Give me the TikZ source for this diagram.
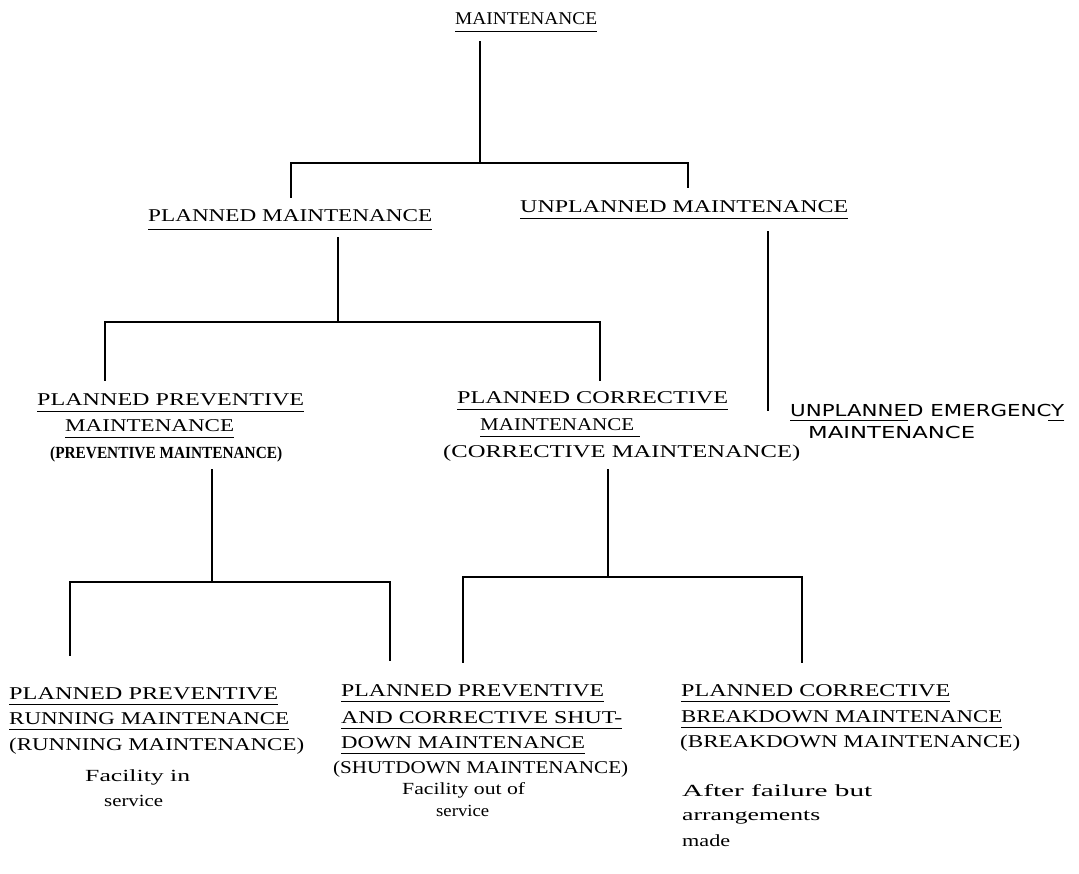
\documentclass[tikz,border=0pt]{standalone}
\usepackage{fontspec}
\usepackage{graphicx}
\setmainfont{Liberation Serif}
\newfontfamily\handfont{DejaVu Sans}
\newcommand\fw[2]{\resizebox{#1pt}{\height}{#2}}
\tikzset{
  lbl/.style={anchor=base west, inner sep=0pt, font=\fontsize{18}{20}\selectfont},
  note/.style={anchor=base west, inner sep=0pt, font=\fontsize{17}{20}\selectfont},
  hand/.style={anchor=base west, inner sep=0pt, font=\handfont\fontsize{16.5}{19}\selectfont},
  conn/.style={line width=1.5pt, line cap=rect},
  ulin/.style={line width=1pt}
}
\newcommand\txtline[5]{% name, x0, x1, baseline, text
  \node[lbl] (#1) at (#2,#4) {\fw{\the\numexpr #3-#2\relax}{#5}};}
\newcommand\noteline[5]{% name, x0, x1, baseline, text
  \node[note] (#1) at (#2,#4) {\fw{\the\numexpr #3-#2\relax}{#5}};}
\newcommand\ulline[2]{% underline node name, offset
  \draw[ulin] ([yshift=-#2pt]#1.base west) -- ([yshift=-#2pt]#1.base east);}
\begin{document}
\begin{tikzpicture}[x=1pt,y=-1pt]
\useasboundingbox[fill=white] (0,0) rectangle (1079,873);
% texts
\txtline{T}{455}{597}{24}{MAINTENANCE}\ulline{T}{7}
\txtline{PM}{148}{432}{221}{PLANNED MAINTENANCE}\ulline{PM}{8}
\txtline{UM}{520}{848}{212}{UNPLANNED MAINTENANCE}\ulline{UM}{6}
\txtline{PPa}{37}{304}{405}{PLANNED PREVENTIVE}\ulline{PPa}{6}
\txtline{PPb}{65}{234}{431}{MAINTENANCE}\ulline{PPb}{6}
\node[lbl, font=\bfseries\fontsize{17}{20}\selectfont] (PPc) at (50,458) {\fw{232}{(PREVENTIVE MAINTENANCE)}};
\txtline{PCa}{457}{728}{403}{PLANNED CORRECTIVE}\ulline{PCa}{6}
\txtline{PCb}{480}{634}{430}{MAINTENANCE}\ulline{PCb}{6}
\draw[ulin] ([yshift=-6pt]PCb.base east) -- ++(6,0);
\txtline{PCc}{443}{800}{457}{(CORRECTIVE MAINTENANCE)}
\node[hand] (UEa) at (790,416) {\fw{274}{UNPLANNED EMERGENCY}};
\node[hand] (UEb) at (808,438) {\fw{167}{MAINTENANCE}};
\draw[ulin] ([yshift=-4pt]UEa.base west) -- ++(118,0);
\draw[ulin] ([yshift=-4pt]UEa.base east) -- ++(-16,0);
\txtline{Ra}{9}{278}{699}{PLANNED PREVENTIVE}\ulline{Ra}{5}
\txtline{Rb}{9}{289}{724}{RUNNING MAINTENANCE}\ulline{Rb}{5}
\txtline{Rc}{9}{304}{750}{(RUNNING MAINTENANCE)}
\txtline{Sa}{341}{604}{696}{PLANNED PREVENTIVE}\ulline{Sa}{5}
\txtline{Sb}{341}{622}{723}{AND CORRECTIVE SHUT-}\ulline{Sb}{5}
\txtline{Sc}{341}{585}{748}{DOWN MAINTENANCE}\ulline{Sc}{5}
\txtline{Sd}{333}{628}{773}{(SHUTDOWN MAINTENANCE)}
\txtline{Ba}{681}{950}{696}{PLANNED CORRECTIVE}\ulline{Ba}{5}
\txtline{Bb}{681}{1002}{722}{BREAKDOWN MAINTENANCE}\ulline{Bb}{5}
\txtline{Bc}{680}{1020}{747}{(BREAKDOWN MAINTENANCE)}
\noteline{Fa}{85}{190}{781}{Facility in}
\noteline{Fb}{104}{163}{806}{service}
\noteline{Oa}{402}{525}{794}{Facility out of}
\noteline{Ob}{436}{489}{816}{service}
\noteline{Aa}{682}{872}{796}{After failure but}
\noteline{Ab}{682}{820}{820}{arrangements}
\noteline{Ac}{682}{730}{846}{made}
% connector coordinates
\coordinate (t0) at (480,42);   \coordinate (t1) at (480,163);
\coordinate (tl) at (291,163);  \coordinate (tr) at (688,163);
\coordinate (tle) at (291,197); \coordinate (tre) at (688,187);
\coordinate (p0) at (338,238);  \coordinate (p1) at (338,322);
\coordinate (pl) at (105,322);  \coordinate (pr) at (600,322);
\coordinate (ple) at (105,380); \coordinate (pre) at (600,380);
\coordinate (u0) at (768,232);  \coordinate (ue) at (768,410);
\coordinate (v0) at (212,470);  \coordinate (v1) at (212,582);
\coordinate (vl) at (70,582);   \coordinate (vr) at (390,582);
\coordinate (vle) at (70,655);  \coordinate (vre) at (390,660);
\coordinate (c0) at (608,470);  \coordinate (c1) at (608,577);
\coordinate (cl) at (463,577);  \coordinate (cr) at (802,577);
\coordinate (cle) at (463,662); \coordinate (cre) at (802,662);
\draw[conn] (t0) -- (t1);
\draw[conn] (tle) -- (tl) -- (tr) -- (tre);
\draw[conn] (p0) -- (p1);
\draw[conn] (ple) -- (pl) -- (pr) -- (pre);
\draw[conn] (u0) -- (ue);
\draw[conn] (v0) -- (v1);
\draw[conn] (vle) -- (vl) -- (vr) -- (vre);
\draw[conn] (c0) -- (c1);
\draw[conn] (cle) -- (cl) -- (cr) -- (cre);
\end{tikzpicture}
\end{document}
